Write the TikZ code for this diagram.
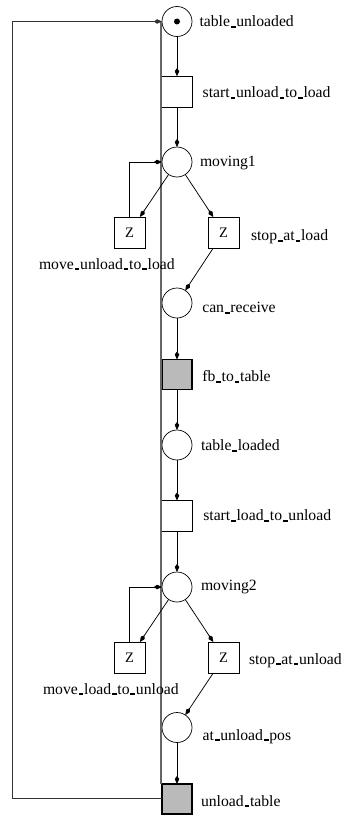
\documentclass[tikz,border=0pt]{standalone}
\usepackage{fontspec}
\setmainfont{Liberation Serif}
\usetikzlibrary{arrows.meta}
% short, heavy underscore as in the original labels
\newcommand\us{\kern.05em\rule[-0.07em]{.3em}{.12em}\kern.05em}
\begin{document}
\begin{tikzpicture}[x=1pt,y=-1pt,
  every node/.style={inner sep=0pt, outer sep=0pt},
  place/.style={circle, draw, line width=0.7pt, minimum size=30pt},
  trans/.style={rectangle, draw, line width=0.7pt, minimum size=31pt, fill=white},
  imm/.style={rectangle, draw, line width=1.4pt, minimum size=30pt, fill=black!27},
  lbl/.style={anchor=base west, font=\fontsize{15.7}{18}\selectfont},
  zlbl/.style={font=\fontsize{14.5}{16}\selectfont},
  arc/.style={draw, line width=0.75pt, -{Kite[length=8pt,width=4.5pt,inset=3pt]}},
  rail/.style={draw, black!60, line width=1.3pt}
]
\useasboundingbox (0,0) rectangle (346,816);

% places and transitions
\node[place] (tu) at (177,21.5) {};
\fill (tu) circle (3pt);
\node[trans] (sul) at (177,91.7) {};
\node[place] (m1) at (177,162) {};
\node[trans] (zl1) at (129.5,232.5) {};
\node[trans] (zr1) at (223.5,232.5) {};
\node[place] (cr) at (177,303) {};
\node[imm] (fb) at (177,374.5) {};
\node[place] (tl) at (177,445) {};
\node[trans] (slu) at (177,516) {};
\node[place] (m2) at (177,587) {};
\node[trans] (zl2) at (129.5,657.5) {};
\node[trans] (zr2) at (223.5,657.5) {};
\node[place] (ap) at (177,727.5) {};
\node[imm] (ut) at (177,799) {};

\node[zlbl] at (zl1) {Z};
\node[zlbl] at (zr1) {Z};
\node[zlbl] at (zl2) {Z};
\node[zlbl] at (zr2) {Z};

% long straight arc along the left side of the column
\coordinate (railtop) at (161,21.5);
\coordinate (railbot) at (161,783.5);
\draw[rail] (railbot) -- (railtop);

% outer return arc
\coordinate (loopbl) at (12,798);
\coordinate (looptl) at (12,21.5);
\draw[arc, black!80] (ut.west |- loopbl) -- (loopbl) -- (looptl) -- (tu.west);

% arcs
\draw[arc] (tu) -- (sul);
\draw[arc] (sul) -- (m1);
\draw[arc] (m1) -- (zl1);
\draw[arc] (m1) -- (zr1);
\draw[arc] (zl1.north) |- (m1.west);
\draw[arc] (zr1) -- (cr);
\draw[arc] (cr) -- (fb);
\draw[arc] (fb) -- (tl);
\draw[arc] (tl) -- (slu);
\draw[arc] (slu) -- (m2);
\draw[arc] (m2) -- (zl2);
\draw[arc] (m2) -- (zr2);
\draw[arc] (zl2.north) |- (m2.west);
\draw[arc] (zr2) -- (ap);
\draw[arc] (ap) -- (ut);

% labels
\node[lbl] (l1) at (199.5,26.5) {table\us unloaded};
\node[lbl] (l2) at (202.7,97.7) {start\us unload\us to\us load};
\node[lbl] (l3) at (200,166.7) {moving1};
\node[lbl] (l4) at (251,240.7) {stop\us at\us load};
\node[lbl] (l5) at (39,269) {move\us unload\us to\us load};
\node[lbl] (l6) at (202.3,312.5) {can\us receive};
\node[lbl] (l7) at (202.3,381.7) {fb\us to\us table};
\node[lbl] (l8) at (201,450.7) {table\us loaded};
\node[lbl] (l9) at (203.3,520.5) {start\us load\us to\us unload};
\node[lbl] (l10) at (201,590.7) {moving2};
\node[lbl] (l11) at (249,664) {stop\us at\us unload};
\node[lbl] (l12) at (43,694) {move\us load\us to\us unload};
\node[lbl] (l13) at (202.7,740) {at\us unload\us pos};
\node[lbl] (l14) at (201,806) {unload\us table};
\end{tikzpicture}
\end{document}
